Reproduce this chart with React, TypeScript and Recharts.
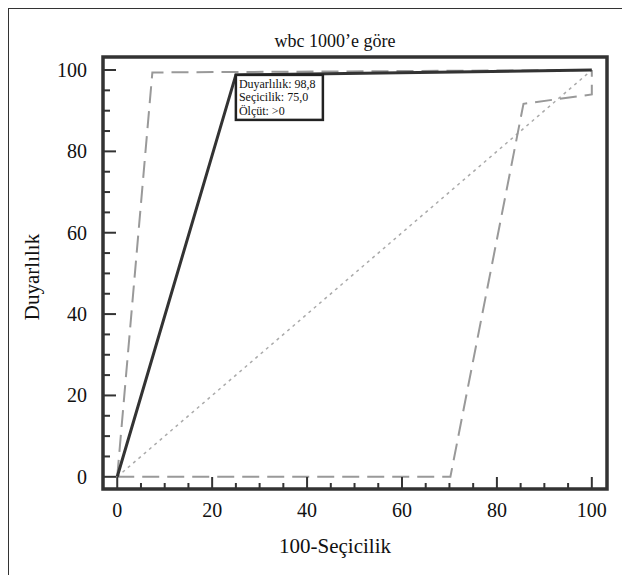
import React from "react";
import {
  LineChart,
  Line,
  XAxis,
  YAxis,
  ReferenceArea,
  ReferenceDot,
} from "recharts";

// ROC curve and its confidence bounds (x = 100-Seçicilik, y = Duyarlılık)
const rocCurve = [
  { x: 0, y: 0 },
  { x: 25, y: 98.8 },
  { x: 100, y: 100 },
];
const upperBound = [
  { x: 0, y: 0 },
  { x: 7.4, y: 99.4 },
  { x: 100, y: 100 },
];
const lowerBound = [
  { x: 0, y: 0 },
  { x: 70.2, y: 0 },
  { x: 85.6, y: 91.7 },
  { x: 100, y: 94 },
  { x: 100, y: 100 },
];
const diagonal = [
  { x: 0, y: 0 },
  { x: 100, y: 100 },
];

const ticks = [0, 5, 10, 15, 20, 25, 30, 35, 40, 45, 50, 55, 60, 65, 70, 75, 80, 85, 90, 95, 100];
const cutoff = { x: 25, y: 98.8, lines: ["Duyarlılık: 98,8", "Seçicilik: 75,0", "Ölçüt: >0"] };

const FONT = "'Liberation Serif', 'Times New Roman', serif";
const INK = "#333";
const serif = { fontFamily: FONT };

const XTick = (props: any) => {
  const { x, y, payload } = props;
  const major = payload.value % 20 === 0;
  return (
    <g>
      <line x1={x} y1={y} x2={x} y2={y - (major ? 12 : 6)} stroke={INK} strokeWidth={2} />
      {major && (
        <text x={x} y={y + 28} textAnchor="middle" style={serif} fontSize={20} fill="#111">
          {payload.value}
        </text>
      )}
    </g>
  );
};

const YTick = (props: any) => {
  const { x, y, payload } = props;
  const major = payload.value % 20 === 0;
  return (
    <g>
      <line x1={x} y1={y} x2={x + (major ? 13 : 7)} y2={y} stroke={INK} strokeWidth={2} />
      {major && (
        <text x={x - 16} y={y + 7} textAnchor="end" style={serif} fontSize={20} fill="#111">
          {payload.value}
        </text>
      )}
    </g>
  );
};

const CutoffBox = (props: any) => {
  const { cx, cy } = props;
  return (
    <g>
      <rect x={cx} y={cy} width={87} height={45} fill="#fff" stroke="#222" strokeWidth={2.5} />
      {cutoff.lines.map((t, i) => (
        <text key={t} x={cx + 3} y={cy + 13 + i * 13.5} style={serif} fontSize={12} fill="#111">
          {t}
        </text>
      ))}
    </g>
  );
};

export default function App() {
  return (
    <div
      style={{
        position: "relative",
        width: 622,
        height: 567,
        borderTop: "1px solid #333",
        borderLeft: "1px solid #333",
        boxSizing: "border-box",
        background: "#fff",
        fontFamily: FONT,
      }}
    >
      <LineChart width={621} height={566} margin={{ top: 48, right: 23, bottom: 46, left: 34 }} style={serif}>
        <XAxis
          dataKey="x"
          type="number"
          domain={[-3, 103.2]}
          ticks={ticks}
          allowDataOverflow
          height={40}
          tickSize={0}
          tickMargin={0}
          tickLine={false}
          axisLine={false}
          tick={<XTick />}
          interval={0}
        />
        <YAxis
          dataKey="y"
          type="number"
          domain={[-3, 103.2]}
          ticks={ticks}
          allowDataOverflow
          width={60}
          tickSize={0}
          tickMargin={0}
          tickLine={false}
          axisLine={false}
          tick={<YTick />}
          interval={0}
        />
        <ReferenceArea x1={-3} x2={103.2} y1={-3} y2={103.2} fill="none" stroke={INK} strokeWidth={3.5} />
        <Line data={diagonal} dataKey="y" stroke="#aaa" strokeWidth={1.5} strokeDasharray="3 4" dot={false} isAnimationActive={false} />
        <Line data={upperBound} dataKey="y" stroke="#999" strokeWidth={2} strokeDasharray="17 8" dot={false} isAnimationActive={false} />
        <Line data={lowerBound} dataKey="y" stroke="#999" strokeWidth={2} strokeDasharray="17 8" dot={false} isAnimationActive={false} />
        <Line data={rocCurve} dataKey="y" stroke={INK} strokeWidth={3} dot={false} isAnimationActive={false} />
        <ReferenceDot x={cutoff.x} y={cutoff.y} shape={<CutoffBox />} />
      </LineChart>
      <svg width={621} height={566} style={{ position: "absolute", left: 0, top: 0, pointerEvents: "none" }}>
        <text x={326} y={38} textAnchor="middle" style={serif} fontSize={18} fill="#111">
          wbc 1000’e göre
        </text>
        <text x={326} y={544} textAnchor="middle" style={serif} fontSize={21} fill="#111">
          100-Seçicilik
        </text>
        <text
          x={30}
          y={268}
          textAnchor="middle"
          style={serif}
          fontSize={21}
          fill="#111"
          transform="rotate(-90 30 268)"
        >
          Duyarlılık
        </text>
      </svg>
    </div>
  );
}
